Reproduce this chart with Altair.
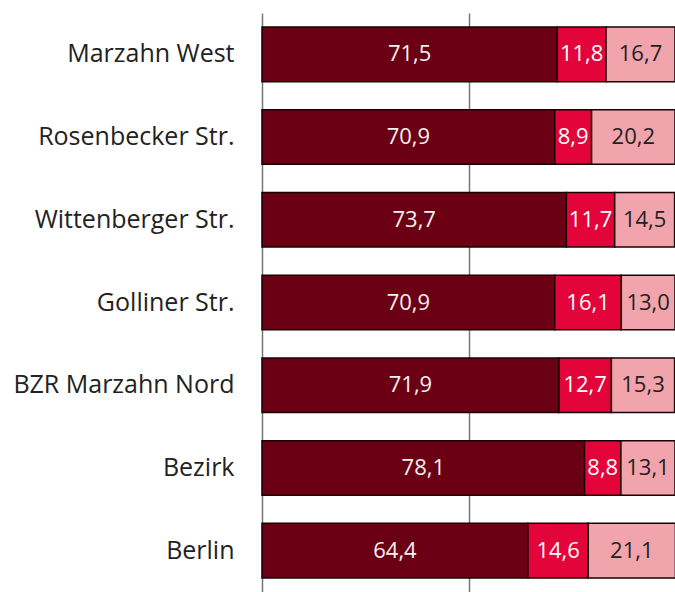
import altair as alt
import pandas as pd

categories = ["Marzahn West", "Rosenbecker Str.", "Wittenberger Str.", "Golliner Str.",
              "BZR Marzahn Nord", "Bezirk", "Berlin"]
seg1 = [71.5, 70.9, 73.7, 70.9, 71.9, 78.1, 64.4]
seg2 = [11.8, 8.9, 11.7, 16.1, 12.7, 8.8, 14.6]
seg3 = [16.7, 20.2, 14.5, 13.0, 15.3, 13.1, 21.1]
series = ["A", "B", "C"]
colors = ["#6B0014", "#E3053A", "#F2A4AC"]
text_colors = ["#F4F0F0", "#FFFFFF", "#222222"]

rows = []
for i, c in enumerate(categories):
    for s, vals in zip(series, [seg1, seg2, seg3]):
        v = vals[i]
        rows.append({"cat": c, "series": s, "order": series.index(s), "value": v,
                     "label": f"{v:.1f}".replace(".", ",")})
df = pd.DataFrame(rows)

FONT = "Open Sans"

base = alt.Chart(df).transform_stack(
    stack="value", groupby=["cat"], as_=["x0", "x1"], sort=[alt.SortField("order")]
).transform_calculate(mid="(datum.x0 + datum.x1) / 2")

y = alt.Y("cat:N", sort=categories, title=None,
          scale=alt.Scale(paddingInner=0.34, paddingOuter=0.17),
          axis=alt.Axis(labelFont=FONT, labelFontSize=25, labelColor="#222222",
                        labelPadding=28, ticks=False, domain=False, labelLimit=300))

bars = base.mark_bar(stroke="#1a0005", strokeWidth=1.5).encode(
    x=alt.X("x0:Q", scale=alt.Scale(domain=[0, 100]), title=None,
            axis=alt.Axis(values=[0, 50], grid=True, gridColor="#777777", gridWidth=1.5,
                          labels=False, ticks=False, domain=False)),
    x2="x1:Q",
    y=y,
    color=alt.Color("series:N", scale=alt.Scale(domain=series, range=colors), legend=None),
)

texts = base.mark_text(font=FONT, fontSize=22, baseline="middle", align="center").encode(
    x="mid:Q",
    y=alt.Y("cat:N", sort=categories),
    text="label:N",
    color=alt.Color("series:N", scale=alt.Scale(domain=series, range=text_colors), legend=None),
)

chart = alt.layer(bars, texts).resolve_scale(color="independent").properties(
    width=413, height=579,
    autosize=alt.AutoSizeParams(type="none"),
    padding={"left": 262, "top": 13, "right": 0, "bottom": 0},
    background="#FFFFFF",
).configure_view(stroke=None)

chart.save("out.html", embed_options={"renderer": "svg", "actions": False})
